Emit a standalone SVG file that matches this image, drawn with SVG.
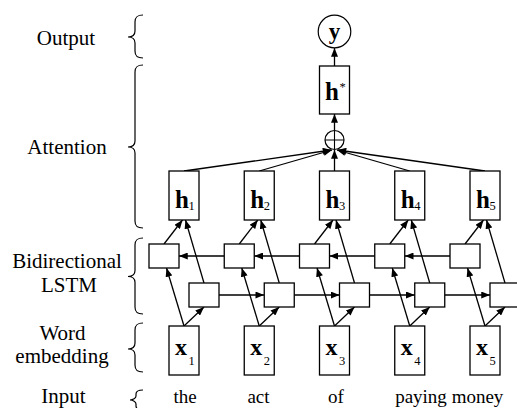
<svg xmlns="http://www.w3.org/2000/svg" width="517" height="408" viewBox="0 0 517 408" font-family="'Liberation Serif', 'DejaVu Serif', serif">
<style>
  rect.n { fill: #fff; stroke: #000; stroke-width: 1.3; }
  circle.n { fill: #fff; stroke: #000; stroke-width: 1.2; }
  .c path { fill: none; stroke: #000; stroke-width: 1.3; marker-end: url(#ah); }
  .br { fill: none; stroke: #000; stroke-width: 1.2; }
  text { font-family: 'Liberation Serif', 'DejaVu Serif', serif; fill: #000; }
  .lab { font-size: 21px; text-anchor: middle; }
  .word { font-size: 19px; text-anchor: middle; }
  .bv { font-size: 25px; font-weight: bold; }
  .bx { font-size: 24px; font-weight: bold; }
  .by { font-size: 23px; font-weight: bold; text-anchor: middle; }
  .sub { font-size: 12.5px; }
</style>
<defs>
  <marker id="ah" viewBox="0 0 10 8" refX="10" refY="4" markerWidth="9" markerHeight="7" orient="auto" markerUnits="userSpaceOnUse">
    <path d="M0,0 L10,4 L0,8 z" fill="#000"/>
  </marker>
</defs>
<rect width="517" height="408" fill="#fff"/>

<g id="labels">
  <text class="lab" x="66" y="45">Output</text>
  <text class="lab" x="67" y="154">Attention</text>
  <text class="lab" x="67" y="268">Bidirectional</text>
  <text class="lab" x="69" y="292">LSTM</text>
  <text class="lab" x="62.5" y="339.5">Word</text>
  <text class="lab" x="62" y="363">embedding</text>
  <text class="lab" x="63.5" y="403">Input</text>
</g>
<g id="braces">
  <path class="br" d="M143,15 C137,15 135,17 135,22 L135,31 C135,35 132,37 128,37 C132,37 135,39 135,43 L135,51 C135,56 137,58 143,58"/>
  <path class="br" d="M143,65 C137,65 135,67 135,72 L135,141 C135,145 132,147 128,147 C132,147 135,149 135,153 L135,221 C135,226 137,228 143,228"/>
  <path class="br" d="M143,238 C137,238 135,240 135,245 L135,270.5 C135,274.5 132,276.5 128,276.5 C132,276.5 135,278.5 135,282.5 L135,307 C135,312 137,314 143,314"/>
  <path class="br" d="M143,323 C137,323 135,325 135,330 L135,343 C135,347 132,349 128,349 C132,349 135,351 135,355 L135,365 C135,370 137,372 143,372"/>
  <path class="br" d="M143,390 C138,390 136,391 136,394 L136,396 C136,398 133,400 130,400 C133,400 136,402 136,404 L136,406 C136,409 138,410 143,410"/>
</g>

<g id="connectors" class="c">
  <path d="M334.5,66 L334.5,48"/>
  <path d="M334.5,130.5 L334.5,114"/>
  <path d="M184,171 L331.5,150"/>
  <path d="M259.25,171 L332,150"/>
  <path d="M334.5,171 L334.5,150"/>
  <path d="M409.75,171 L337,150"/>
  <path d="M485,171 L337.5,150"/>
  <path d="M184,326 L166.5,268"/>
  <path d="M184,326 L204,307"/>
  <path d="M164,244 L182.5,220"/>
  <path d="M204,283 L185.5,220"/>
  <path d="M259.25,326 L241.75,268"/>
  <path d="M259.25,326 L279.25,307"/>
  <path d="M239.25,244 L257.75,220"/>
  <path d="M279.25,283 L260.75,220"/>
  <path d="M334.5,326 L317,268"/>
  <path d="M334.5,326 L354.5,307"/>
  <path d="M314.5,244 L333,220"/>
  <path d="M354.5,283 L336,220"/>
  <path d="M409.75,326 L392.25,268"/>
  <path d="M409.75,326 L429.75,307"/>
  <path d="M389.75,244 L408.25,220"/>
  <path d="M429.75,283 L411.25,220"/>
  <path d="M485,326 L467.5,268"/>
  <path d="M485,326 L505,307"/>
  <path d="M465,244 L483.5,220"/>
  <path d="M505,283 L486.5,220"/>
  <path d="M224.25,256 L179,256"/>
  <path d="M299.5,256 L254.25,256"/>
  <path d="M374.75,256 L329.5,256"/>
  <path d="M450,256 L404.75,256"/>
  <path d="M219,295 L264.25,295"/>
  <path d="M294.25,295 L339.5,295"/>
  <path d="M369.5,295 L414.75,295"/>
  <path d="M444.75,295 L490,295"/>
</g>

<g id="y">
  <circle class="n" cx="334.5" cy="31.5" r="16.3"/>
  <text class="by" x="334.5" y="38.5">y</text>
</g>
<g id="hstar">
  <rect class="n" x="319.5" y="66" width="30" height="48"/>
  <text class="bv" x="325" y="100">h</text>
  <text class="sub" x="339.5" y="91">*</text>
</g>
<g id="oplus">
  <circle class="n" cx="334.5" cy="140" r="9.5"/>
  <path d="M325,140 L344,140 M334.5,130.5 L334.5,149.5" stroke="#000" stroke-width="1.1" fill="none"/>
</g>

<g id="h1"><rect class="n" x="169" y="171" width="30" height="49"/><text class="bv" x="175" y="208">h</text><text class="sub" x="188.5" y="209.5">1</text></g>
<g id="h2"><rect class="n" x="244.25" y="171" width="30" height="49"/><text class="bv" x="250.25" y="208">h</text><text class="sub" x="263.75" y="209.5">2</text></g>
<g id="h3"><rect class="n" x="319.5" y="171" width="30" height="49"/><text class="bv" x="325.5" y="208">h</text><text class="sub" x="339" y="209.5">3</text></g>
<g id="h4"><rect class="n" x="394.75" y="171" width="30" height="49"/><text class="bv" x="400.75" y="208">h</text><text class="sub" x="414.25" y="209.5">4</text></g>
<g id="h5"><rect class="n" x="470" y="171" width="30" height="49"/><text class="bv" x="476" y="208">h</text><text class="sub" x="489.5" y="209.5">5</text></g>

<g id="b1"><rect class="n" x="149" y="244" width="30" height="24"/></g>
<g id="b2"><rect class="n" x="224.25" y="244" width="30" height="24"/></g>
<g id="b3"><rect class="n" x="299.5" y="244" width="30" height="24"/></g>
<g id="b4"><rect class="n" x="374.75" y="244" width="30" height="24"/></g>
<g id="b5"><rect class="n" x="450" y="244" width="30" height="24"/></g>

<g id="f1"><rect class="n" x="189" y="283" width="30" height="24"/></g>
<g id="f2"><rect class="n" x="264.25" y="283" width="30" height="24"/></g>
<g id="f3"><rect class="n" x="339.5" y="283" width="30" height="24"/></g>
<g id="f4"><rect class="n" x="414.75" y="283" width="30" height="24"/></g>
<g id="f5"><rect class="n" x="490" y="283" width="30" height="24"/></g>

<g id="x1"><rect class="n" x="169" y="326" width="30" height="49"/><text class="bx" x="175" y="355">x</text><text class="sub" x="188.5" y="365">1</text></g>
<g id="x2"><rect class="n" x="244.25" y="326" width="30" height="49"/><text class="bx" x="250.25" y="355">x</text><text class="sub" x="263.75" y="365">2</text></g>
<g id="x3"><rect class="n" x="319.5" y="326" width="30" height="49"/><text class="bx" x="325.5" y="355">x</text><text class="sub" x="339" y="365">3</text></g>
<g id="x4"><rect class="n" x="394.75" y="326" width="30" height="49"/><text class="bx" x="400.75" y="355">x</text><text class="sub" x="414.25" y="365">4</text></g>
<g id="x5"><rect class="n" x="470" y="326" width="30" height="49"/><text class="bx" x="476" y="355">x</text><text class="sub" x="489.5" y="365">5</text></g>

<g id="words">
  <text class="word" x="185" y="403">the</text>
  <text class="word" x="258.5" y="403">act</text>
  <text class="word" x="336" y="403">of</text>
  <text class="word" x="421" y="403">paying</text>
  <text class="word" x="477.5" y="403">money</text>
</g>
</svg>
